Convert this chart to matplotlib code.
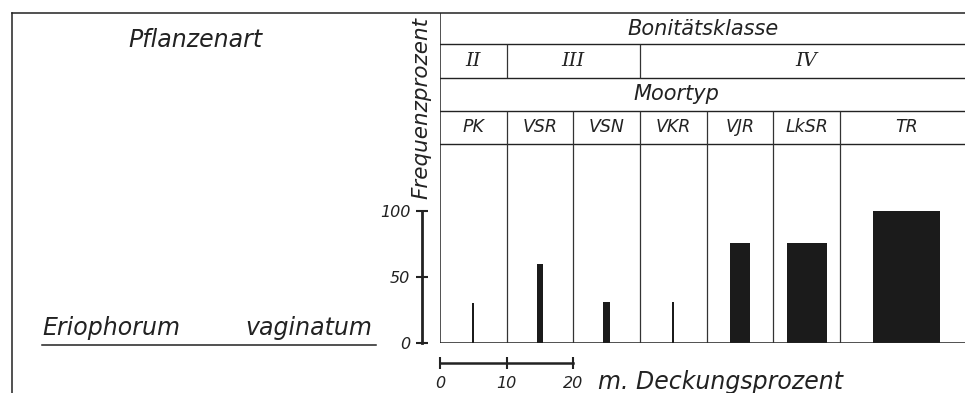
import numpy as np
import matplotlib
matplotlib.use("Agg")
import matplotlib.pyplot as plt

# Daten (Eriophorum vaginatum)
moortyp = ["PK", "VSR", "VSN", "VKR", "VJR", "LkSR", "TR"]
spalten = [10, 10, 10, 10, 10, 10, 20]          # Spaltenbreite (Deckungsprozent-Skala)
frequenz = [30, 60, 31, 31, 76, 76, 100]        # Frequenzprozent
deckung = [0.3, 1, 1, 0.3, 3, 6, 10]            # mittl. Deckungsprozent (Balkenbreite)
klassen = ["II", "III", "IV"]
klassen_spalten = [1, 2, 4]                     # Anzahl Moortyp-Spalten je Klasse
y_ticks = [0, 50, 100]
x_ticks = [0, 10, 20]

INK = "#222222"
FONT = "DejaVu Sans"

W, H = 965, 393
fig = plt.figure(figsize=(W / 100, H / 100), dpi=100)

# Hintergrund in Pixelkoordinaten (Rahmen, Beschriftung links)
bg = fig.add_axes([0, 0, 1, 1])
bg.set_xlim(0, W)
bg.set_ylim(H, 0)
bg.axis("off")
bg.plot([12, 12], [13, H], color=INK, lw=1.1)
bg.plot([12, W], [13, 13], color=INK, lw=1.1)
bg.text(195, 40, "Pflanzenart", ha="center", va="center", fontsize=17,
        style="oblique", family=FONT, color=INK)
bg.text(42, 335, "Eriophorum", ha="left", va="baseline", fontsize=17,
        style="oblique", family=FONT, color=INK)
bg.text(372, 335, "vaginatum", ha="right", va="baseline", fontsize=17,
        style="oblique", family=FONT, color=INK)
bg.plot([42, 376], [345, 345], color=INK, lw=1.1)
bg.text(421, 108, "Frequenzprozent", ha="center", va="center", rotation=90,
        fontsize=15.5, style="oblique", family=FONT, color=INK)
bg.text(598, 382, "m. Deckungsprozent", ha="left", va="center", fontsize=17,
        style="oblique", family=FONT, color=INK)

# Diagramm + Kopftabelle
x0, y0, x1, y1 = 440, 343, W, 13
ax = fig.add_axes([x0 / W, (H - y0) / H, (x1 - x0) / W, (y0 - y1) / H])
ax.patch.set_alpha(0)
grenzen = np.cumsum([0] + spalten)
ax.set_xlim(0, (x1 - x0) / 6.667)
ax.set_ylim(0, (y0 - y1) / 1.32)
top = (y0 - y1) / 1.32
rows = [top, 226.5, 200.8, 175.8, 150.8]   # Zeilengrenzen der Kopftabelle

mitten = (grenzen[:-1] + grenzen[1:]) / 2
ax.bar(mitten, frequenz, width=deckung, color="#1b1b1b", linewidth=0)

# Tabellenlinien
ax.axhline(0, color=INK, lw=1.1)
for r in rows[1:]:
    ax.axhline(r, color=INK, lw=1.0)
ax.vlines(0, 0, top, color=INK, lw=1.1)
ax.vlines(grenzen[1:-1], 0, rows[3], color="#333333", lw=0.9)
kgrenzen = grenzen[np.cumsum([0] + klassen_spalten)]
ax.vlines(kgrenzen[1:-1], rows[2], rows[1], color="#333333", lw=0.9)

# Kopftexte
txt = dict(ha="center", va="center", style="oblique", family=FONT, color=INK)
ax.text(39.5, (rows[0] + rows[1]) / 2, "Bonitätsklasse", fontsize=15, **txt)
ax.text(35.5, (rows[2] + rows[3]) / 2, "Moortyp", fontsize=15, **txt)
for lab, a, b in zip(klassen, kgrenzen[:-1], kgrenzen[1:]):
    ax.text((a + b) / 2, (rows[1] + rows[2]) / 2, lab, fontsize=14,
            ha="center", va="center", style="italic", family="DejaVu Serif",
            color=INK)
for lab, m in zip(moortyp, mitten):
    ax.text(m, (rows[3] + rows[4]) / 2, lab, fontsize=12.5, **txt)

# Achsen: Frequenzskala links, Deckungsmaßstab unten
for s in ["top", "right"]:
    ax.spines[s].set_visible(False)
ax.spines["left"].set_position(("outward", 18 * 0.72))
ax.spines["left"].set_bounds(0, 100)
ax.spines["left"].set_linewidth(2)
ax.spines["left"].set_color(INK)
ax.spines["bottom"].set_position(("outward", 20 * 0.72))
ax.spines["bottom"].set_bounds(0, 20)
ax.spines["bottom"].set_linewidth(1.8)
ax.spines["bottom"].set_color(INK)
ax.set_yticks(y_ticks)
ax.set_yticklabels([str(v) for v in y_ticks], style="oblique", family=FONT)
ax.set_xticks(x_ticks)
ax.set_xticklabels([str(v) for v in x_ticks], style="oblique", family=FONT)
ax.tick_params(axis="y", direction="inout", length=9, width=1.5,
               labelsize=11.5, pad=4, colors=INK)
ax.tick_params(axis="x", direction="inout", length=8, width=1.5,
               labelsize=11.5, pad=5, colors=INK)

fig.savefig("out.png", dpi=100)
